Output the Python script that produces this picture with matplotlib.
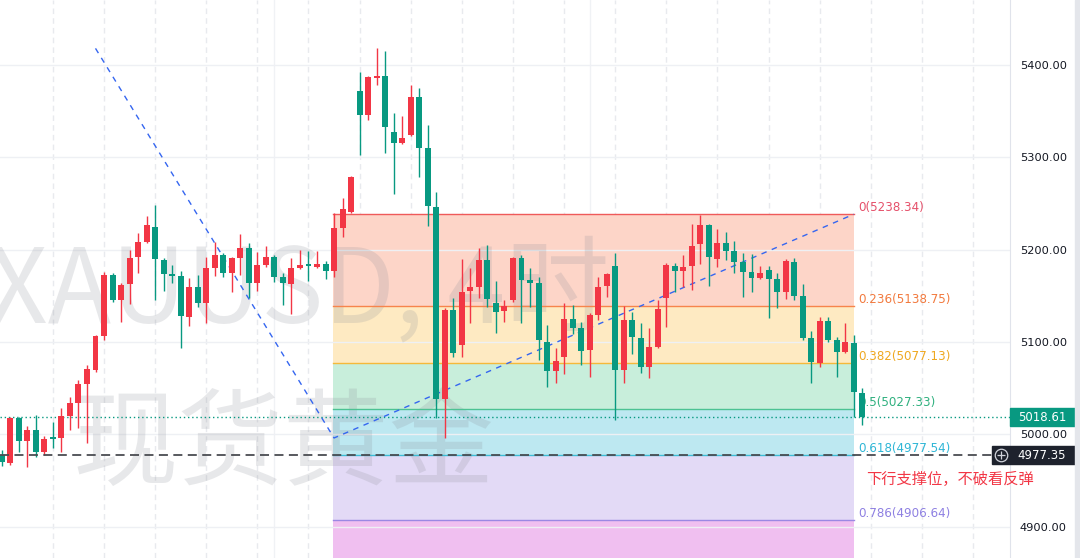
import numpy as np
import matplotlib.pyplot as plt
import matplotlib.transforms as mtransforms
from matplotlib.patches import Rectangle

plt.rcParams['font.family'] = ['DejaVu Sans', 'Noto Sans CJK SC']

# XAUUSD 4h candles
opens = [
    4977.6, 4968.9, 5017.7, 4992.8, 5004.7, 4980.8, 4997.1, 4996.0, 5019.8, 5033.9,
    5054.5, 5069.7, 5106.5, 5172.5, 5145.5, 5162.8, 5192.0, 5208.3, 5224.5, 5188.8,
    5172.5, 5171.5, 5127.1, 5159.5, 5142.2, 5180.1, 5194.2, 5174.7, 5190.9, 5201.8,
    5163.9, 5183.4, 5192.0, 5170.4, 5162.8, 5180.1, 5184.5, 5181.2, 5184.5, 5176.9,
    5223.4, 5240.8, 5371.8, 5345.8, 5385.9, 5388.1, 5327.4, 5315.5, 5324.2, 5365.3,
    5310.1, 5246.2, 5038.3, 5134.6, 5096.7, 5155.2, 5159.5, 5188.8, 5142.2, 5133.6,
    5145.5, 5190.9, 5167.1, 5163.9, 5100.0, 5068.6, 5083.7, 5124.9, 5115.1, 5091.3,
    5129.2, 5160.6, 5182.3, 5069.7, 5123.8, 5104.3, 5072.9, 5094.6, 5147.6, 5182.3,
    5176.9, 5182.3, 5206.1, 5226.7, 5189.9, 5207.2, 5198.5, 5186.6, 5175.8, 5169.3,
    5178.0, 5168.2, 5154.1, 5186.6, 5149.8, 5104.3, 5077.2, 5122.7, 5102.1, 5089.2,
    5098.9, 5044.8]
highs = [
    4983.0, 5018.7, 5018.7, 5009.0, 5020.9, 4998.2, 5013.4, 5028.5, 5040.4, 5058.8,
    5075.1, 5107.6, 5175.8, 5174.7, 5163.9, 5199.6, 5218.0, 5236.5, 5248.4, 5190.9,
    5183.4, 5176.9, 5169.3, 5172.5, 5192.0, 5208.3, 5196.4, 5192.0, 5216.9, 5207.2,
    5197.5, 5204.0, 5194.2, 5174.7, 5190.9, 5199.6, 5198.5, 5198.5, 5187.7, 5239.7,
    5255.9, 5279.8, 5392.4, 5388.1, 5418.4, 5415.2, 5348.0, 5344.8, 5378.3, 5375.1,
    5335.0, 5262.4, 5136.8, 5147.6, 5189.9, 5180.1, 5201.8, 5205.0, 5166.0, 5145.5,
    5192.0, 5194.2, 5180.1, 5170.4, 5118.4, 5093.5, 5142.2, 5140.1, 5121.6, 5131.4,
    5170.4, 5174.7, 5196.4, 5139.0, 5132.5, 5120.6, 5115.1, 5145.5, 5185.5, 5185.5,
    5194.2, 5227.8, 5237.5, 5227.8, 5222.4, 5219.1, 5209.4, 5196.4, 5195.3, 5182.3,
    5182.3, 5174.7, 5189.9, 5190.9, 5162.8, 5111.9, 5127.1, 5127.1, 5105.4, 5120.6,
    5107.6, 5050.2]
lows = [
    4965.7, 4966.8, 4980.8, 4964.6, 4975.4, 4977.6, 4985.2, 4980.8, 5004.7, 5006.8,
    4990.6, 5067.5, 5102.1, 5143.3, 5121.6, 5141.1, 5174.7, 5207.2, 5145.5, 5155.2,
    5163.9, 5093.5, 5117.3, 5137.9, 5120.6, 5171.5, 5170.4, 5154.1, 5172.5, 5147.6,
    5155.2, 5181.2, 5165.0, 5140.1, 5130.3, 5179.0, 5166.0, 5180.2, 5168.2, 5170.4,
    5213.7, 5239.7, 5302.5, 5340.4, 5378.3, 5304.7, 5260.3, 5314.4, 5323.1, 5278.7,
    5225.6, 5017.7, 4996.0, 5083.7, 5083.7, 5120.6, 5147.6, 5137.9, 5109.7, 5121.6,
    5143.3, 5120.6, 5137.9, 5080.5, 5051.2, 5055.6, 5065.3, 5108.6, 5075.1, 5062.1,
    5123.8, 5148.7, 5015.5, 5055.6, 5087.0, 5066.4, 5061.0, 5093.5, 5116.2, 5154.1,
    5159.5, 5156.3, 5184.5, 5160.6, 5181.2, 5188.8, 5174.7, 5148.7, 5154.1, 5168.2,
    5126.0, 5136.8, 5146.6, 5145.5, 5102.1, 5055.6, 5072.9, 5100.0, 5062.1, 5088.1,
    5018.7, 5010.1]
closes = [
    4970.0, 5017.7, 4992.8, 5004.7, 4980.8, 4994.9, 4994.9, 5019.8, 5033.9, 5054.5,
    5070.7, 5106.5, 5172.5, 5145.5, 5161.7, 5190.9, 5208.3, 5226.7, 5189.9, 5173.6,
    5171.5, 5128.1, 5159.5, 5142.2, 5180.1, 5194.2, 5174.7, 5190.9, 5201.8, 5163.9,
    5183.4, 5192.0, 5170.4, 5163.9, 5180.1, 5183.4, 5182.3, 5184.5, 5176.9, 5223.4,
    5244.0, 5278.7, 5345.8, 5387.0, 5388.1, 5332.8, 5315.5, 5320.9, 5365.3, 5310.1,
    5247.3, 5038.3, 5134.6, 5088.1, 5154.1, 5159.5, 5188.8, 5146.6, 5132.5, 5139.0,
    5190.9, 5167.1, 5163.9, 5102.1, 5068.6, 5079.4, 5124.9, 5115.1, 5090.3, 5129.2,
    5159.5, 5173.6, 5069.7, 5123.8, 5105.4, 5072.9, 5094.6, 5135.7, 5183.4, 5176.9,
    5181.2, 5204.0, 5226.7, 5192.0, 5207.2, 5198.5, 5186.6, 5175.8, 5169.3, 5174.7,
    5168.2, 5154.1, 5187.7, 5149.8, 5104.3, 5078.3, 5122.7, 5102.1, 5089.2, 5100.0,
    5045.8, 5018.6]

# fibonacci retracement drawing
fib_levels = [0, 0.236, 0.382, 0.5, 0.618, 0.786, 1]
fib_prices = [5238.34, 5138.75, 5077.13, 5027.33, 4977.54, 4906.64, 4816.30]
fib_x = [38.9, 99.98]
fib_line_colors = ['#ef5a5a', '#f7844c', '#f5b93a', '#4cc293', '#3cbdd6', '#9b88e3', '#e07ae0']
fib_text_colors = ['#e5506a', '#f27a3e', '#efa820', '#2fb07f', '#2fb6d6', '#8e80e2', '#e07ae0']
fib_fills = ['#fdd5c8', '#feeac2', '#c8eedb', '#bde8f1', '#e3daf6', '#f0bff0']

# trend lines (blue dashed)
trend_x = [11.0, 39.0, 100.0]
trend_y = [5418.0, 4996.0, 5238.34]

last_price = 5018.61
alert_price = 4977.35
price_ticks = [4900, 5000, 5100, 5200, 5300, 5400]

RED = '#f23645'
GREEN = '#089981'

fig = plt.figure(figsize=(10.8, 5.58), dpi=100)
ax = fig.add_axes([0, 0, 1010 / 1080, 1])
ax.set_xlim(-0.21, 118.34)
ax.set_ylim(4866.0, 5470.4)

# grid
ax.yaxis.tick_right()
ax.set_yticks(price_ticks)
ax.set_yticklabels([f'{t:.2f}' for t in price_ticks])
ax.tick_params(axis='y', length=0, pad=7, labelsize=8.2, labelcolor='#131722')
ax.set_xticks([])
ax.grid(axis='y', color='#eef0f4', lw=1, zorder=0)
for k in range(6, 119, 6):
    ax.axvline(k, color='#e8eaee', lw=1, ls=(0, (4, 3)), zorder=0)
for k in (32, 69):
    ax.axvline(k, color='#f0f2f5', lw=1, zorder=0)
for s in ('top', 'bottom', 'left'):
    ax.spines[s].set_visible(False)
ax.spines['right'].set_color('#e0e3eb')

# fib zones
for j in range(len(fib_fills)):
    ax.fill_between(fib_x, fib_prices[j + 1], fib_prices[j], color=fib_fills[j], lw=0, zorder=1)
for lvl, p, lc, tc in zip(fib_levels[:-1], fib_prices[:-1], fib_line_colors, fib_text_colors):
    ax.plot(fib_x, [p, p], color=lc, lw=1, zorder=2.5)
    ax.annotate(f'{lvl:g}({p:.2f})', xy=(fib_x[1] + 0.58, p), xytext=(0, 6.5),
                textcoords='offset pixels', va='center', ha='left', fontsize=8.6,
                color=tc, zorder=3)

# watermark
ax.text(-0.012, 0.423, 'XAUUSD, 4时', transform=ax.transAxes, fontsize=75,
        color='#8a8d96', alpha=0.2, family=['Noto Sans CJK SC'], va='baseline', zorder=2)
ax.text(0.072, 0.199, '现货黄金', transform=ax.transAxes, fontsize=76,
        color='#8a8d96', alpha=0.2, family=['Noto Sans CJK SC'], va='center', zorder=2)

# trend lines
ax.plot(trend_x, trend_y, color='#3566f0', lw=1, ls=(0, (4, 4)), zorder=3.5)

# candles
o = np.array(opens)
c = np.array(closes)
idx = np.arange(len(o))
cols = np.where(c >= o, RED, GREEN)
ax.vlines(idx, lows, highs, colors=cols, lw=1, zorder=4)
ax.bar(idx, np.maximum(np.abs(c - o), 2.0), bottom=np.minimum(o, c), width=0.7,
       color=cols, lw=0, zorder=5)

# current price and alert lines
ax.axhline(last_price, color=GREEN, lw=1, ls=(0, (1, 2)), zorder=3)
ax.axhline(alert_price, xmax=992 / 1010, color='#4a4c52', lw=1.3, ls=(0, (5, 3)), zorder=6)

ax.text(101.5, 4951.6, '下行支撑位，不破看反弹', color=RED, fontsize=11, va='center',
        ha='left', family=['Noto Sans CJK SC', 'DejaVu Sans'], zorder=6)

trans = mtransforms.blended_transform_factory(ax.transAxes, ax.transData)
ax.add_patch(Rectangle((1.0, last_price - 9.75), 65 / 1010, 19.5, transform=trans,
                       color=GREEN, clip_on=False, zorder=7))
ax.text(1 + 32.5 / 1010, last_price, f'{last_price:.2f}', transform=trans, color='white',
        fontsize=8.5, ha='center', va='center', clip_on=False, zorder=8)
ax.add_patch(Rectangle((992 / 1010, alert_price - 9.75), 83 / 1010, 19.5, transform=trans,
                       color='#1e222d', clip_on=False, zorder=7))
ax.plot([1001 / 1010], [alert_price], transform=trans, marker='o', ms=9, mfc='none',
        mec='#d1d4dc', mew=0.9, clip_on=False, zorder=8)
ax.plot([1001 / 1010], [alert_price], transform=trans, marker='+', ms=6, mec='#d1d4dc',
        mew=0.9, clip_on=False, zorder=8)
ax.text(1042 / 1010, alert_price, f'{alert_price:.2f}', transform=trans, color='white',
        fontsize=8.5, ha='center', va='center', clip_on=False, zorder=8)

fig.add_artist(Rectangle((1075 / 1080, 0), 5 / 1080, 1, transform=fig.transFigure,
                         color='#e4e6eb'))

fig.savefig('out.png', dpi=100)
